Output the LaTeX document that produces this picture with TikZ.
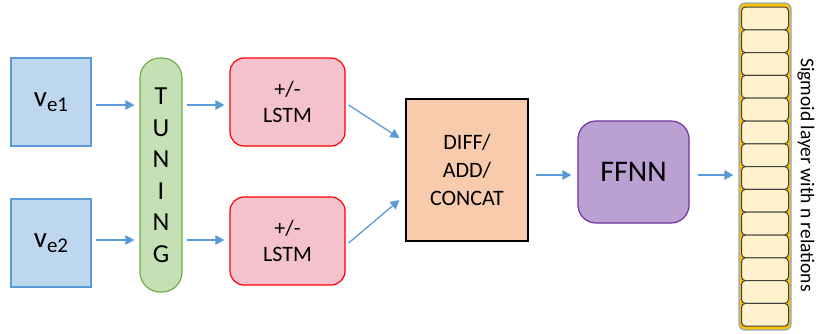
\documentclass[tikz,border=0pt]{standalone}
\usepackage{fontspec}
\setmainfont{Carlito}
\usetikzlibrary{arrows.meta,calc}
\definecolor{bfill}{HTML}{BDD7EE}
\definecolor{bdraw}{HTML}{5B9BD5}
\definecolor{gfill}{HTML}{C5E0B4}
\definecolor{gdraw}{HTML}{70AD47}
\definecolor{pfill}{HTML}{F4C2CC}
\definecolor{pdraw}{HTML}{FF0000}
\definecolor{ofill}{HTML}{F8CBAD}
\definecolor{vfill}{HTML}{BBA0D3}
\definecolor{vdraw}{HTML}{7030A0}
\definecolor{cfill}{HTML}{FFF2CC}
\definecolor{cdraw}{HTML}{404040}
\definecolor{sorange}{HTML}{FFC000}
\definecolor{sframe}{HTML}{8FAAC4}
\definecolor{arrc}{HTML}{5B9BD5}
\tikzset{
  inbox/.style={draw=bdraw, fill=bfill, line width=1.2pt, minimum width=80pt, minimum height=88pt, inner sep=0pt},
  tunebox/.style={draw=gdraw, fill=gfill, line width=1.2pt, rounded corners=20pt, minimum width=42pt, minimum height=234pt, inner sep=0pt, align=center, font=\fontsize{26}{31.5}\selectfont},
  lstmbox/.style={draw=pdraw, fill=pfill, line width=1.2pt, rounded corners=14pt, minimum width=115pt, minimum height=88pt, inner sep=0pt, align=center, font=\fontsize{22}{26}\selectfont},
  combox/.style={draw=black, fill=ofill, line width=1.2pt, minimum width=122pt, minimum height=142pt, inner sep=0pt, align=center, font=\fontsize{22}{28}\selectfont},
  ffbox/.style={draw=vdraw, fill=vfill, line width=1.2pt, rounded corners=18pt, minimum width=111pt, minimum height=102pt, inner sep=0pt, font=\fontsize{30}{32}\selectfont},
  cellbox/.style={draw=cdraw, fill=cfill, line width=1pt, rounded corners=4pt, minimum width=47pt, minimum height=22.8pt, inner sep=0pt},
  arr/.style={draw=arrc, line width=1.3pt, -{Triangle[length=9pt,width=9.5pt]}},
}
\begin{document}
\begin{tikzpicture}[x=1pt,y=-1pt]
\useasboundingbox (0,0) rectangle (817,333);
% inputs
\node[inbox] (ve1) at (51,102) {\fontsize{29}{30}\selectfont v\raisebox{-0.35ex}{\fontsize{21}{21}\selectfont e1}};
\node[inbox] (ve2) at (51,243) {\fontsize{29}{30}\selectfont v\raisebox{-0.35ex}{\fontsize{21}{21}\selectfont e2}};
% tuning
\node[tunebox] (tun) at (161,175) {T\\U\\N\\I\\N\\G};
% lstm
\node[lstmbox] (l1) at (287.5,102) {+/-\\LSTM};
\node[lstmbox] (l2) at (287.5,241) {+/-\\LSTM};
% combine
\node[combox] (cmb) at (467,170) {DIFF/\\ADD/\\CONCAT};
% ffnn
\node[ffbox] (ff) at (633.5,172) {FFNN};
% sigmoid
\node[draw=sframe, fill=sorange, line width=1.2pt, rounded corners=6pt, minimum width=52pt, minimum height=327pt, inner sep=0pt] (sig) at (765,166.5) {};
\foreach \i in {0,...,13}{
  \node[cellbox] (c\i) at (765,{18.4+22.8*\i}) {};
}
\node[rotate=-90, font=\fontsize{19.5}{21}\selectfont] (siglab) at (806,175) {Sigmoid layer with n relations};
% arrows
\draw[arr] ($(ve1.east)+(4,3)$) -- ($(tun.west |- ve1.east)+(-5,3)$);
\draw[arr] ($(ve2.east)+(4,-3)$) -- ($(tun.west |- ve2.east)+(-5,-3)$);
\draw[arr] ($(tun.east |- l1.west)+(4,3)$) -- ($(l1.west)+(-5,3)$);
\draw[arr] ($(tun.east |- l2.west)+(4,-1)$) -- ($(l2.west)+(-5,-1)$);
\draw[arr] ($(l1.east)+(3,3)$) -- ($(cmb.west)+(-6,-32)$);
\draw[arr] ($(l2.east)+(3,2)$) -- ($(cmb.west)+(-6,30)$);
\draw[arr] ($(cmb.east)+(7,5)$) -- ($(ff.west)+(-6,3)$);
\draw[arr] ($(ff.east)+(8,3)$) -- ($(sig.west |- ff.east)+(-5,3)$);
\end{tikzpicture}
\end{document}
